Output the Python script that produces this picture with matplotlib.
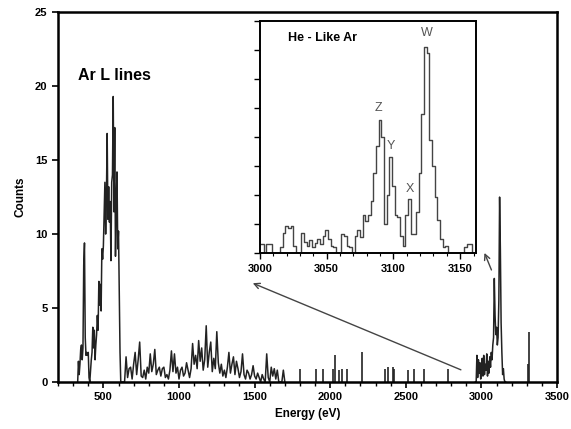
import numpy as np
import matplotlib
matplotlib.use("Agg")
import matplotlib.pyplot as plt

plt.rcParams['font.family'] = ['Liberation Sans', 'DejaVu Sans']
plt.rcParams['font.weight'] = 'bold'

# Ar L lines region (5 eV bins)
arl_energy = np.arange(330, 621, 5)
arl_counts = [0, 1.4, 0.5, 1.2, 2.2, 2.5, 1.5, 2.3, 7.9, 9.4,
              3.0, 1.8, 2.0, 1.8, 2.0, 0.3, 0, 0.8, 1.5, 2.0,
              3.7, 2.3, 3.5, 1.5, 2.5, 3.2, 4.5, 3.5, 6.8, 5.2,
              6.6, 4.8, 9.0, 8.3, 9.2, 11.5, 13.5, 10.0, 12.5, 16.8,
              11.0, 13.2, 10.8, 12.2, 8.2, 13.5, 14.0, 19.3, 11.5, 17.2,
              8.5, 12.0, 14.2, 9.0, 10.2, 5.8, 2.0, 0, 0]

# continuum / noise region (10 eV bins)
cont_energy = np.arange(630, 1701, 10)
cont_counts = [0, 0, 1.7, 0.3, 0.9, 1.0, 0.2, 1.2, 2.0, 0.5,
               1.5, 2.7, 0.4, 0.3, 0.8, 0.2, 1.0, 0.6, 1.9, 0.7,
               1.2, 2.2, 0.5, 0.8, 1.0, 0.4, 0.9, 1.0, 0.3, 0.5,
               0.2, 0.8, 2.1, 0.7, 1.9, 0.6, 1.0, 0.2, 0.8, 1.0,
               0.4, 0.6, 1.3, 0.8, 0.3, 0.9, 2.6, 1.2, 1.8, 0.9,
               2.8, 1.4, 2.3, 0.8, 1.5, 3.8, 1.0, 2.0, 2.7, 0.7,
               1.6, 0.9, 3.4, 1.3, 0.6, 1.2, 0.4, 0.8, 0.3, 1.0,
               2.0, 0.6, 1.2, 1.7, 0.5, 1.4, 0.9, 0.3, 0.7, 1.9,
               0.5, 0.2, 0.8, 0.6, 0.2, 0.5, 1.1, 0.4, 0.2, 0.6,
               0.3, 0, 0.5, 0.2, 0, 1.9, 0.3, 0, 1.0, 0.4,
               0.9, 0.2, 0.8, 0, 0, 0, 0.8, 0]

# isolated single-bin counts
spike_energy = [1802, 1908, 1954, 2020, 2033, 2060, 2075, 2108, 2212,
                2365, 2380, 2412, 2420, 2517, 2553, 2623, 2782, 3305, 3315]
spike_counts = [0.9, 0.9, 0.9, 0.9, 1.8, 0.8, 0.9, 0.9, 2.0,
                0.9, 1.0, 1.0, 0.9, 0.8, 0.9, 0.9, 0.9, 1.2, 3.4]

# He-like Ar K region (5 eV bins)
k_energy = np.arange(2960, 3161, 5)
k_counts = [0, 0, 1.8, 0.3, 1.5, 0.6, 1.3, 0.2, 1.0, 1.6,
            0.4, 1.8, 0.5, 1.2, 0.8, 1.9, 0.4, 1.4, 0.6, 1.7,
            1.0, 2.0, 1.5, 2.5, 3.0, 7.0, 4.5, 3.2, 3.7, 2.5,
            3.0, 5.5, 12.5, 9.0, 4.0, 2.0, 0.5, 0.9, 0.2, 0, 0]

# inset: high resolution He-like Ar (2 eV bins)
inset_energy = np.arange(3000, 3161, 2)
inset_counts = [0.6, 0.6, 0, 0.6, 0.6, 0, 0, 0, 0.4, 1.4,
                1.9, 1.7, 1.9, 0.5, 0, 0, 1.4, 0.8, 0.5, 0.9,
                0.4, 0.7, 1.0, 0.6, 1.2, 1.6, 1.0, 0.5, 0.4, 0,
                0, 1.3, 1.2, 0.5, 0.4, 0, 1.2, 1.6, 1.1, 2.6,
                2.2, 2.6, 3.6, 5.5, 7.4, 9.2, 8.0, 2.0, 4.0, 6.6,
                4.6, 2.6, 2.5, 1.2, 0.5, 2.6, 3.7, 1.3, 1.3, 2.8,
                5.5, 9.6, 14.2, 13.8, 7.8, 6.0, 3.9, 2.3, 1.0, 0.4,
                0.5, 0, 0, 0, 0, 0, 0, 0.4, 0.6, 0.6, 0]
line_names = ['Z', 'Y', 'X', 'W']
line_energy = [3089, 3098, 3112, 3125]
line_label_y = [10.0, 7.4, 4.4, 15.2]

fig = plt.figure(figsize=(5.71, 4.29), dpi=100)
ax = fig.add_axes([0.1016, 0.1096, 0.874, 0.862])

ax.plot(np.concatenate([arl_energy, cont_energy]), arl_counts + cont_counts,
        color='#222222', lw=1.1)
ax.vlines(spike_energy, 0, spike_counts, color='#222222', lw=1.2)
ax.plot(k_energy, k_counts, color='#222222', lw=1.1)

ax.set_xlim(200, 3500)
ax.set_ylim(0, 25)
ax.set_xticks(np.arange(500, 3501, 500))
ax.set_xticks(np.arange(200, 3501, 100), minor=True)
ax.set_yticks(np.arange(0, 26, 5))
ax.tick_params(axis='both', labelsize=8, width=1.2, length=4, direction='out')
ax.tick_params(axis='x', which='minor', width=1, length=3, direction='out')
for s in ax.spines.values():
    s.set_linewidth(1.8)
ax.set_xlabel('Energy (eV)', fontsize=8.5, fontweight='bold', labelpad=4)
ax.set_ylabel('Counts', fontsize=8.5, fontweight='bold', labelpad=6)
ax.text(332, 20.7, 'Ar L lines', fontsize=11.5, fontweight='bold', va='center')

# arrows pointing to the inset
ax.annotate('', xy=(1471, 6.75), xytext=(2881, 0.75),
            arrowprops=dict(arrowstyle='->', color='#444444', lw=1.0))
ax.annotate('', xy=(3013, 8.9), xytext=(3073, 7.4),
            arrowprops=dict(arrowstyle='->', color='#444444', lw=1.0))

ins = fig.add_axes([0.455, 0.410, 0.379, 0.541])
ins.step(inset_energy, inset_counts, where='mid', color='#444444', lw=1.0)
ins.set_xlim(3000, 3162)
ins.set_ylim(0, 16)
ins.set_xticks([3000, 3050, 3100, 3150])
ins.set_xticks(np.arange(3000, 3161, 10), minor=True)
ins.set_yticks(np.arange(0, 17, 2))
ins.set_yticklabels([])
ins.tick_params(axis='both', labelsize=8, width=1, length=4, direction='out')
ins.tick_params(axis='x', which='minor', width=0.8, length=2.5, direction='out')
for s in ins.spines.values():
    s.set_linewidth(1.4)
ins.text(3021, 14.8, 'He - Like Ar', fontsize=9, fontweight='bold', va='center')
for name, e, y in zip(line_names, line_energy, line_label_y):
    ins.text(e, y, name, fontsize=9, fontweight='normal', color='#555555',
             ha='center', va='center')

fig.savefig('out.png', dpi=100)
